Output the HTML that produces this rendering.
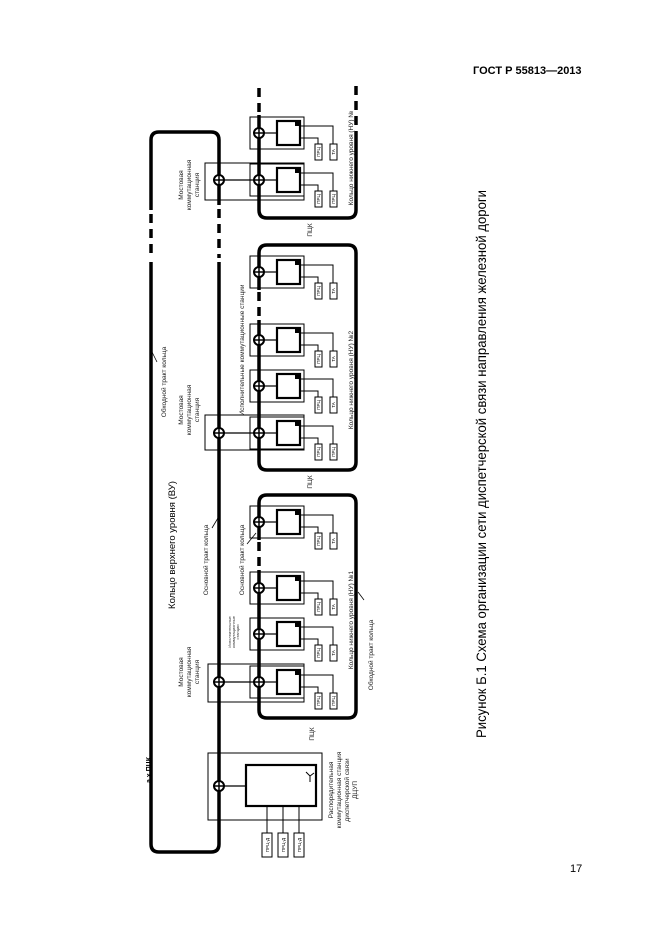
<!DOCTYPE html>
<html><head><meta charset="utf-8"><style>
html,body{margin:0;padding:0;background:#fff;}
svg{display:block;font-family:"Liberation Sans",Arial,sans-serif;}
</style></head><body>
<svg width="661" height="935" viewBox="0 0 661 935" xmlns="http://www.w3.org/2000/svg">
<defs>
<g id="st">
  <rect x="250" y="-16" width="54" height="32" fill="none" stroke="#000" stroke-width="1"/>
  <line x1="264" y1="0" x2="276" y2="0" stroke="#000" stroke-width="1.2"/>
  <rect x="277" y="-12" width="23" height="24" fill="none" stroke="#000" stroke-width="2.2"/>
  <rect x="295" y="-11" width="4" height="4" fill="#000"/>
  <polyline points="300,-7 333,-7 333,11" fill="none" stroke="#000" stroke-width="1"/>
  <polyline points="300,5 318,5 318,11" fill="none" stroke="#000" stroke-width="1"/>
  <rect x="315" y="11" width="7" height="16" fill="#fff" stroke="#000" stroke-width="1"/>
  <rect x="330" y="11" width="7" height="16" fill="#fff" stroke="#000" stroke-width="1"/>
</g>
<g id="cx">
  <circle cx="0" cy="0" r="5" fill="#fff" stroke="#000" stroke-width="2"/>
  <line x1="-5" y1="0" x2="5" y2="0" stroke="#000" stroke-width="1.5"/>
  <line x1="0" y1="-5" x2="0" y2="5" stroke="#000" stroke-width="1.5"/>
</g>
</defs>

<text x="473" y="74" font-size="11" font-weight="bold">ГОСТ Р 55813—2013</text>
<text x="570" y="872" font-size="11">17</text>
<text transform="translate(486,464) rotate(-90)" font-size="14" text-anchor="middle" textLength="548" lengthAdjust="spacingAndGlyphs">Рисунок Б.1 Схема организации сети диспетчерской связи направления железной дороги</text>

<!-- VU ring -->
<g fill="none" stroke="#000" stroke-width="3.5">
  <path d="M151,210 L151,140 Q151,132 159,132 L211,132 Q219,132 219,140 L219,205"/>
  <path d="M151,262 L151,844 Q151,852 159,852 L211,852 Q219,852 219,844 L219,262"/>
  <path d="M151,214 V258 M219,209 V258" stroke-dasharray="9,6"/>
</g>

<!-- Ring 3 (top) -->
<g fill="none" stroke="#000" stroke-width="3.5">
  <path d="M259,115 L259,210 Q259,218 267,218 L348,218 Q356,218 356,210 L356,135"/>
  <path d="M259,88 V115 M356,86 V135" stroke-dasharray="9,6"/>
</g>
<!-- Ring 2 -->
<g fill="none" stroke="#000" stroke-width="3.5">
  <path d="M259,290 V253 Q259,245 267,245 L348,245 Q356,245 356,253 L356,462 Q356,470 348,470 L267,470 Q259,470 259,462 L259,320"/>
  <path d="M259,292 V320" stroke-dasharray="9,6"/>
</g>
<!-- Ring 1 -->
<g fill="none" stroke="#000" stroke-width="3.5">
  <path d="M259,540 V503 Q259,495 267,495 L348,495 Q356,495 356,503 L356,710 Q356,718 348,718 L267,718 Q259,718 259,710 L259,570"/>
  <path d="M259,542 V570" stroke-dasharray="9,6"/>
</g>

<!-- bridge boxes -->
<g fill="none" stroke="#000" stroke-width="1">
  <rect x="205" y="163" width="99" height="37"/>
  <rect x="205" y="415" width="99" height="35"/>
  <rect x="208" y="664" width="96" height="38"/>
</g>
<g stroke="#000" stroke-width="1.2">
  <line x1="219" y1="180" x2="259" y2="180"/>
  <line x1="219" y1="433" x2="259" y2="433"/>
  <line x1="219" y1="682" x2="259" y2="682"/>
</g>

<!-- stations -->
<use href="#st" transform="translate(0,133)"/>
<use href="#st" transform="translate(0,180)"/>
<use href="#st" transform="translate(0,272)"/>
<use href="#st" transform="translate(0,340)"/>
<use href="#st" transform="translate(0,386)"/>
<use href="#st" transform="translate(0,433)"/>
<use href="#st" transform="translate(0,522)"/>
<use href="#st" transform="translate(0,588)"/>
<use href="#st" transform="translate(0,634)"/>
<use href="#st" transform="translate(0,682)"/>

<use href="#cx" transform="translate(259,133)"/>
<use href="#cx" transform="translate(259,180)"/>
<use href="#cx" transform="translate(219,180)"/>
<use href="#cx" transform="translate(259,272)"/>
<use href="#cx" transform="translate(259,340)"/>
<use href="#cx" transform="translate(259,386)"/>
<use href="#cx" transform="translate(259,433)"/>
<use href="#cx" transform="translate(219,433)"/>
<use href="#cx" transform="translate(259,522)"/>
<use href="#cx" transform="translate(259,588)"/>
<use href="#cx" transform="translate(259,634)"/>
<use href="#cx" transform="translate(259,682)"/>
<use href="#cx" transform="translate(219,682)"/>

<!-- DCUP -->
<rect x="208" y="753" width="114" height="67" fill="none" stroke="#000" stroke-width="1"/>
<line x1="224" y1="786" x2="246" y2="786" stroke="#000" stroke-width="1.2"/>
<rect x="246" y="765" width="70" height="41" fill="none" stroke="#000" stroke-width="2.2"/>
<path d="M306,772 l4,4 l4,-3 M310,776 v6" fill="none" stroke="#000" stroke-width="1"/>
<use href="#cx" transform="translate(219,786)"/>
<g stroke="#000" stroke-width="1" fill="#fff">
  <line x1="267" y1="806" x2="267" y2="833"/>
  <line x1="283" y1="806" x2="283" y2="833"/>
  <line x1="299" y1="806" x2="299" y2="833"/>
  <rect x="262" y="833" width="10" height="24"/>
  <rect x="278" y="833" width="10" height="24"/>
  <rect x="294" y="833" width="10" height="24"/>
</g>

<!-- device labels -->
<g font-size="4.5" text-anchor="middle">
  <g transform="translate(0,133)"><text transform="translate(320,19) rotate(-90)">ПРЦ</text><text transform="translate(335,19) rotate(-90)">ТА</text></g>
  <g transform="translate(0,180)"><text transform="translate(320,19) rotate(-90)">ПРЦ</text><text transform="translate(335,19) rotate(-90)">ПРЦ</text></g>
  <g transform="translate(0,272)"><text transform="translate(320,19) rotate(-90)">ПРЦ</text><text transform="translate(335,19) rotate(-90)">ТА</text></g>
  <g transform="translate(0,340)"><text transform="translate(320,19) rotate(-90)">ПРЦ</text><text transform="translate(335,19) rotate(-90)">ТА</text></g>
  <g transform="translate(0,386)"><text transform="translate(320,19) rotate(-90)">ПРЦ</text><text transform="translate(335,19) rotate(-90)">ТА</text></g>
  <g transform="translate(0,433)"><text transform="translate(320,19) rotate(-90)">ПРЦ</text><text transform="translate(335,19) rotate(-90)">ПРЦ</text></g>
  <g transform="translate(0,522)"><text transform="translate(320,19) rotate(-90)">ПРЦ</text><text transform="translate(335,19) rotate(-90)">ТА</text></g>
  <g transform="translate(0,588)"><text transform="translate(320,19) rotate(-90)">ПРЦ</text><text transform="translate(335,19) rotate(-90)">ТА</text></g>
  <g transform="translate(0,634)"><text transform="translate(320,19) rotate(-90)">ПРЦ</text><text transform="translate(335,19) rotate(-90)">ТА</text></g>
  <g transform="translate(0,682)"><text transform="translate(320,19) rotate(-90)">ПРЦ</text><text transform="translate(335,19) rotate(-90)">ПРЦ</text></g>
  <text transform="translate(269,845) rotate(-90)">ПРЦ-Д</text>
  <text transform="translate(285,845) rotate(-90)">ПРЦ-Д</text>
  <text transform="translate(301,845) rotate(-90)">ПРЦ-Д</text>
</g>

<!-- rotated labels -->
<g font-size="6.5" text-anchor="middle" fill="#222">
  <text transform="translate(183,185) rotate(-90)">Мостовая</text>
  <text transform="translate(191,185) rotate(-90)">коммутационная</text>
  <text transform="translate(199,185) rotate(-90)">станция</text>
  <text transform="translate(183,410) rotate(-90)">Мостовая</text>
  <text transform="translate(191,410) rotate(-90)">коммутационная</text>
  <text transform="translate(199,410) rotate(-90)">станция</text>
  <text transform="translate(183,672) rotate(-90)">Мостовая</text>
  <text transform="translate(191,672) rotate(-90)">коммутационная</text>
  <text transform="translate(199,672) rotate(-90)">станция</text>
  <text transform="translate(333,790) rotate(-90)">Распорядительная</text>
  <text transform="translate(341,790) rotate(-90)">коммутационная станция</text>
  <text transform="translate(349,790) rotate(-90)">диспетчерской связи</text>
  <text transform="translate(357,790) rotate(-90)">ДЦУП</text>
  <text transform="translate(208,560) rotate(-90)">Основной тракт кольца</text>
  <text transform="translate(166,382) rotate(-90)">Обходной тракт кольца</text>
  <text transform="translate(244,560) rotate(-90)">Основной тракт кольца</text>
  <text transform="translate(244,350) rotate(-90)">Исполнительные коммутационные станции</text>
  <text transform="translate(353,158) rotate(-90)">Кольцо нижнего уровня (НУ) №</text>
  <text transform="translate(353,380) rotate(-90)">Кольцо нижнего уровня (НУ) №2</text>
  <text transform="translate(353,620) rotate(-90)">Кольцо нижнего уровня (НУ) №1</text>
  <text transform="translate(373,655) rotate(-90)">Обходной тракт кольца</text>
  <text transform="translate(312,230) rotate(-90)">ПЦК</text>
  <text transform="translate(312,482) rotate(-90)">ПЦК</text>
  <text transform="translate(314,734) rotate(-90)">ПЦК</text>
</g>
<g font-size="4" text-anchor="middle" fill="#333">
  <text transform="translate(231,632) rotate(-90)">Исполнительные</text>
  <text transform="translate(235,632) rotate(-90)">коммутационные</text>
  <text transform="translate(239,632) rotate(-90)">станции</text>
</g>
<text transform="translate(175,545) rotate(-90)" font-size="9.5" text-anchor="middle">Кольцо верхнего уровня (ВУ)</text>
<text transform="translate(151,770) rotate(-90)" font-size="7" font-weight="bold" text-anchor="middle">а х ПЦК</text>

<!-- leaders -->
<g stroke="#000" stroke-width="0.8">
  <line x1="212" y1="528" x2="218" y2="518"/>
  <line x1="247" y1="544" x2="256" y2="533"/>
  <line x1="152" y1="352" x2="157" y2="362"/>
  <line x1="358" y1="592" x2="364" y2="600"/>
</g>
</svg>
</body></html>
